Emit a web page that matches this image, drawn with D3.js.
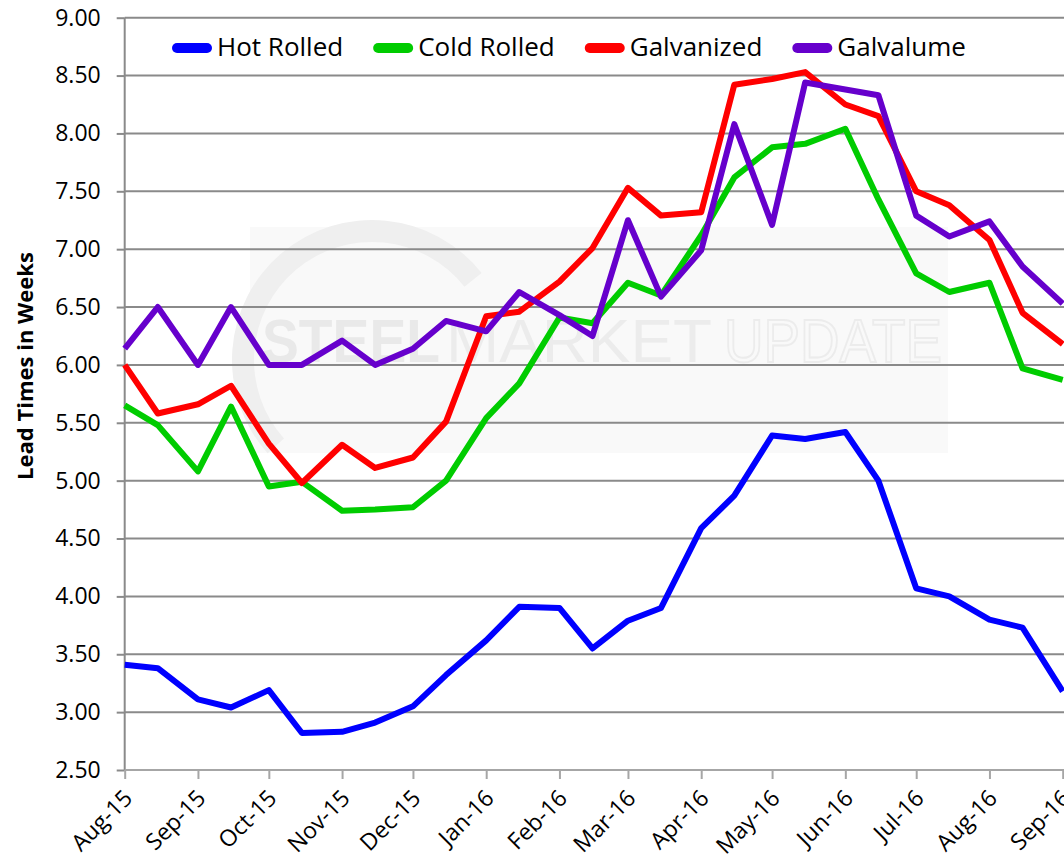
<!DOCTYPE html>
<html>
<head>
<meta charset="utf-8">
<script src="https://cdn.jsdelivr.net/npm/d3@7"></script>
<style>
  html, body { margin: 0; padding: 0; background: #ffffff; }
  svg { display: block; }
  text { font-family: "Open Sans", "Noto Sans", sans-serif; fill: #000; }
</style>
</head>
<body>
<svg id="chart" width="1064" height="863"></svg>
<script>
// Survey dates: first and middle of each month
const dates = [
  "2015-08-01","2015-08-15","2015-09-01","2015-09-15","2015-10-01","2015-10-15",
  "2015-11-01","2015-11-15","2015-12-01","2015-12-15","2016-01-01","2016-01-15",
  "2016-02-01","2016-02-15","2016-03-01","2016-03-15","2016-04-01","2016-04-15",
  "2016-05-01","2016-05-15","2016-06-01","2016-06-15","2016-07-01","2016-07-15",
  "2016-08-01","2016-08-15","2016-09-01"
];

// Lead times in weeks
const hotRolled = [3.41,3.38,3.11,3.04,3.19,2.82,2.83,2.91,3.05,3.32,3.62,3.91,3.90,3.55,3.79,3.90,4.59,4.87,5.39,5.36,5.42,5.00,4.07,4.00,3.80,3.73,3.18];
const coldRolled = [5.65,5.48,5.08,5.64,4.95,4.99,4.74,4.75,4.77,5.00,5.54,5.84,6.41,6.36,6.71,6.60,7.12,7.62,7.88,7.91,8.04,7.43,6.79,6.63,6.71,5.97,5.87];
const galvanized = [6.00,5.58,5.66,5.82,5.32,4.98,5.31,5.11,5.20,5.51,6.42,6.46,6.72,7.01,7.53,7.29,7.32,8.42,8.47,8.53,8.25,8.15,7.50,7.38,7.08,6.45,6.18];
const galvalume  = [6.14,6.50,6.00,6.50,6.00,6.00,6.21,6.00,6.14,6.38,6.29,6.63,6.43,6.25,7.25,6.59,6.99,8.08,7.21,8.44,8.38,8.33,7.29,7.11,7.24,6.85,6.53];

const seriesNames  = ["Hot Rolled","Cold Rolled","Galvanized","Galvalume"];
const seriesValues = [hotRolled, coldRolled, galvanized, galvalume];
const seriesColors = ["#0000ff","#00cc00","#ff0000","#6600cc"];

const yTicks = [2.5,3,3.5,4,4.5,5,5.5,6,6.5,7,7.5,8,8.5,9];
const monthTicks = ["2015-08-01","2015-09-01","2015-10-01","2015-11-01","2015-12-01",
  "2016-01-01","2016-02-01","2016-03-01","2016-04-01","2016-05-01","2016-06-01",
  "2016-07-01","2016-08-01","2016-09-01"];
const yTitle = "Lead Times in Weeks";

const parse = d3.utcParse("%Y-%m-%d");
const svg = d3.select("#chart");

const plot = { left: 124.7, right: 1062.7, top: 17.7, bottom: 770 };

const x = d3.scaleUtc()
  .domain([parse("2015-08-01"), parse("2016-09-01")])
  .range([plot.left, plot.right]);
const y = d3.scaleLinear().domain([2.5, 9]).range([plot.bottom, plot.top]);

// Faint watermark panel behind the plot
const wm = svg.append("g").attr("class", "watermark");
wm.append("rect").attr("x", 250).attr("y", 227).attr("width", 698).attr("height", 226)
  .attr("fill", "#f9f9f9");
wm.append("path")
  .attr("d", d3.arc()({ innerRadius: 118, outerRadius: 140, startAngle: -2.3, endAngle: 0.9 }))
  .attr("transform", "translate(372,360)")
  .attr("fill", "#efefef");
wm.append("text").attr("x", 262).attr("y", 362)
  .attr("textLength", 178).attr("lengthAdjust", "spacingAndGlyphs")
  .style("font-family", "Liberation Sans, Arial, sans-serif")
  .style("font-weight", "bold").style("font-size", "62px")
  .style("fill", "#e9e9e9").text("STEEL");
wm.append("text").attr("x", 446).attr("y", 362)
  .attr("textLength", 266).attr("lengthAdjust", "spacingAndGlyphs")
  .style("font-family", "Liberation Sans, Arial, sans-serif")
  .style("font-size", "62px")
  .style("fill", "#ececec").text("MARKET");
wm.append("text").attr("x", 724).attr("y", 362)
  .attr("textLength", 218).attr("lengthAdjust", "spacingAndGlyphs")
  .style("font-family", "Liberation Sans, Arial, sans-serif")
  .style("font-size", "62px")
  .style("fill", "none").style("stroke", "#ececec").style("stroke-width", 2)
  .text("UPDATE");

// Horizontal gridlines and y-axis labels
const yAxis = d3.axisLeft(y).tickValues(yTicks).tickFormat(d3.format(".2f"))
  .tickSize(8).tickPadding(16);
const gy = svg.append("g").attr("transform", `translate(${plot.left},0)`).call(yAxis);
gy.select(".domain").remove();
gy.selectAll(".tick line").attr("stroke", "#8a8a8a").attr("stroke-width", 2);
gy.selectAll(".tick text").style("font-size", "23px").attr("fill", "#000");

svg.append("g").selectAll("line").data(yTicks.filter(v => v > 2.5)).join("line")
  .attr("x1", plot.left).attr("x2", 1064)
  .attr("y1", d => y(d)).attr("y2", d => y(d))
  .attr("stroke", "#8a8a8a").attr("stroke-width", 2);

// Vertical axis line
svg.append("line").attr("x1", plot.left).attr("x2", plot.left)
  .attr("y1", plot.top).attr("y2", plot.bottom)
  .attr("stroke", "#8a8a8a").attr("stroke-width", 2);

// Bottom axis with month ticks
const xAxis = d3.axisBottom(x).tickValues(monthTicks.map(parse))
  .tickFormat(d3.utcFormat("%b-%y")).tickSize(9);
const gx = svg.append("g").attr("transform", `translate(0,${plot.bottom})`).call(xAxis);
gx.select(".domain").attr("stroke", "#a6a6a6").attr("stroke-width", 2)
  .attr("d", `M${plot.left},0H1064`);
gx.selectAll(".tick line").attr("stroke", "#a6a6a6").attr("stroke-width", 2);
gx.selectAll(".tick text")
  .style("font-size", "23px").attr("fill", "#000")
  .attr("text-anchor", "end")
  .attr("dy", "0.35em")
  .attr("transform", "translate(3,24) rotate(-45)")
  .attr("y", 0).attr("x", 0);

// Series lines
const line = d3.line()
  .x((d, i) => x(parse(dates[i])))
  .y(d => y(d));
svg.append("g").selectAll("path").data(seriesValues).join("path")
  .attr("d", d => line(d))
  .attr("fill", "none")
  .attr("stroke", (d, i) => seriesColors[i])
  .attr("stroke-width", 6)
  .attr("stroke-linejoin", "round")
  .attr("stroke-linecap", "butt");

// Legend across the top
const legend = svg.append("g").attr("class", "legend");
let lx = 172;
seriesNames.forEach((name, i) => {
  legend.append("line")
    .attr("x1", lx + 5).attr("x2", lx + 35).attr("y1", 48).attr("y2", 48)
    .attr("stroke", seriesColors[i]).attr("stroke-width", 10)
    .attr("stroke-linecap", "round");
  const t = legend.append("text")
    .attr("x", lx + 45).attr("y", 56)
    .style("font-size", "26px")
    .text(name);
  lx += 45 + t.node().getComputedTextLength() + 30;
});

// Y-axis title
svg.append("text")
  .attr("transform", "translate(25,366) rotate(-90)")
  .attr("text-anchor", "middle")
  .attr("dy", "0.35em")
  .style("font-size", "22px").style("font-weight", "bold")
  .text(yTitle);
</script>
</body>
</html>
